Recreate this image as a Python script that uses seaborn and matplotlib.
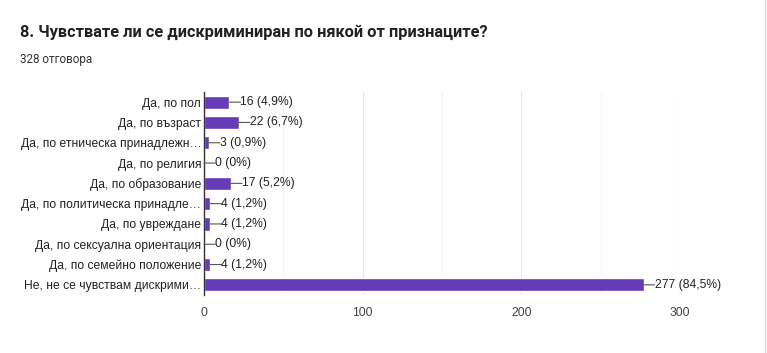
import matplotlib
matplotlib.use("Agg")
import matplotlib.pyplot as plt
import seaborn as sns
import pandas as pd
from matplotlib.ticker import MultipleLocator

categories = [
    "Да, по пол",
    "Да, по възраст",
    "Да, по етническа принадлежн…",
    "Да, по религия",
    "Да, по образование",
    "Да, по политическа принадле…",
    "Да, по увреждане",
    "Да, по сексуална ориентация",
    "Да, по семейно положение",
    "Не, не се чувствам дискрими…",
]
counts = [16, 22, 3, 0, 17, 4, 4, 0, 4, 277]
percents = ["4,9%", "6,7%", "0,9%", "0%", "5,2%", "1,2%", "1,2%", "0%", "1,2%", "84,5%"]
x_ticks = [0, 100, 200, 300]

title = "8. Чувствате ли се дискриминиран по някой от признаците?"
subtitle = "328 отговора"

sns.set_theme(style="white")
plt.rcParams["font.family"] = ["Liberation Sans", "DejaVu Sans"]

df = pd.DataFrame({"category": categories, "count": counts})

fig = plt.figure(figsize=(7.67, 3.53), dpi=100)
ax = fig.add_axes([204 / 767, 1 - 295 / 353, (680 - 204) / 767, (295 - 92) / 353])

sns.barplot(data=df, y="category", x="count", color="#673ab7", saturation=1,
            width=0.65, ax=ax, orient="h")

ax.set_xlim(0, 300)
ax.set_xticks(x_ticks)
ax.xaxis.set_minor_locator(MultipleLocator(50))
ax.grid(axis="x", which="major", color="#e6e6e6", lw=0.8)
ax.grid(axis="x", which="minor", color="#f4f4f4", lw=0.8)
ax.set_axisbelow(True)
for s in ["top", "right", "bottom"]:
    ax.spines[s].set_visible(False)
ax.spines["left"].set_color("#333333")
ax.spines["left"].set_linewidth(1.0)
ax.set_xlabel("")
ax.set_ylabel("")
lbl = 8.7
ax.tick_params(axis="y", length=0, pad=2, labelsize=lbl, labelcolor="#222222")
ax.tick_params(axis="x", which="major", length=0, pad=9, labelsize=lbl, labelcolor="#444444")
ax.tick_params(axis="x", which="minor", length=0)

off = 8.0
for i, (c, p) in enumerate(zip(counts, percents)):
    ax.annotate("", xy=(c, i), xytext=(off, 0), textcoords="offset points",
                arrowprops=dict(arrowstyle="-", color="#555555", lw=0.8,
                                shrinkA=0, shrinkB=0))
    ax.annotate(f"{c} ({p})", xy=(c, i), xytext=(off, 0), textcoords="offset points",
                ha="left", va="center", fontsize=lbl, color="#222222")

fig.text(20 / 767, 1 - 32 / 353, title, fontsize=11.8, fontweight="bold",
         color="#202124", va="center", ha="left", family=["Roboto", "DejaVu Sans"])
fig.text(20 / 767, 1 - 59 / 353, subtitle, fontsize=8.4, color="#333333",
         va="center", ha="left", family=["Roboto", "DejaVu Sans"])

fig.add_artist(plt.Line2D([765 / 767, 765 / 767], [0, 1], color="#dadce0", lw=1))

fig.savefig("out.png", dpi=100)
